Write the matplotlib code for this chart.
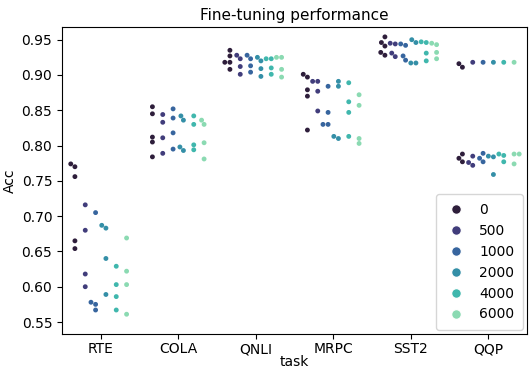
import matplotlib
matplotlib.use("Agg")
import matplotlib.pyplot as plt
from matplotlib.lines import Line2D
import seaborn as sns
import pandas as pd

tasks = ["RTE", "COLA", "QNLI", "MRPC", "SST2", "QQP"]
hues = ["0", "500", "1000", "2000", "4000", "6000"]

rte = {
    "0": [0.774, 0.770, 0.756, 0.665, 0.654],
    "500": [0.716, 0.680, 0.618, 0.600],
    "1000": [0.705, 0.578, 0.575, 0.567],
    "2000": [0.687, 0.683, 0.640, 0.589],
    "4000": [0.629, 0.603, 0.586, 0.567],
    "6000": [0.669, 0.622, 0.603, 0.561],
}
cola = {
    "0": [0.855, 0.845, 0.812, 0.805, 0.784],
    "500": [0.844, 0.833, 0.811, 0.789],
    "1000": [0.852, 0.839, 0.818, 0.795],
    "2000": [0.842, 0.836, 0.798, 0.793],
    "4000": [0.842, 0.830, 0.801, 0.794],
    "6000": [0.836, 0.830, 0.804, 0.781],
}
qnli = {
    "0": [0.935, 0.927, 0.918, 0.918, 0.908],
    "500": [0.928, 0.923, 0.912, 0.901],
    "1000": [0.928, 0.923, 0.913, 0.904],
    "2000": [0.925, 0.920, 0.909, 0.898],
    "4000": [0.923, 0.923, 0.910, 0.901],
    "6000": [0.925, 0.925, 0.908, 0.897],
}
mrpc = {
    "0": [0.901, 0.897, 0.879, 0.870, 0.822],
    "500": [0.891, 0.891, 0.877, 0.849],
    "1000": [0.884, 0.847, 0.830, 0.830],
    "2000": [0.891, 0.884, 0.813, 0.810],
    "4000": [0.889, 0.862, 0.847, 0.813],
    "6000": [0.872, 0.857, 0.810, 0.803],
}
sst2 = {
    "0": [0.954, 0.946, 0.941, 0.932, 0.928],
    "500": [0.945, 0.944, 0.931, 0.926],
    "1000": [0.944, 0.942, 0.927, 0.921],
    "2000": [0.950, 0.946, 0.917, 0.917],
    "4000": [0.947, 0.946, 0.931, 0.920],
    "6000": [0.945, 0.943, 0.932, 0.923],
}
qqp = {
    "0": [0.916, 0.911, 0.788, 0.782, 0.777],
    "500": [0.918, 0.785, 0.776, 0.772],
    "1000": [0.918, 0.789, 0.782, 0.777],
    "2000": [0.918, 0.785, 0.784, 0.759],
    "4000": [0.918, 0.788, 0.786, 0.777],
    "6000": [0.918, 0.788, 0.788, 0.774],
}

all_data = {"RTE": rte, "COLA": cola, "QNLI": qnli, "MRPC": mrpc, "SST2": sst2, "QQP": qqp}
rows = []
for t in tasks:
    for h in hues:
        for v in all_data[t][h]:
            rows.append({"task": t, "n": h, "Acc": v})
df = pd.DataFrame(rows)

DPI = 100
fig = plt.figure(figsize=(532 / DPI, 368 / DPI), dpi=DPI)
ax = fig.add_axes([62 / 532, 1 - 334 / 368, (527 - 62) / 532, (334 - 27) / 368])
palette = sns.color_palette("mako", len(hues))
sns.swarmplot(data=df, x="task", y="Acc", hue="n", order=tasks, hue_order=hues,
              palette=palette, dodge=True, size=3.5, ax=ax, legend=False)
ax.set_title("Fine-tuning performance", fontsize=11, pad=5)
ax.set_xlabel("task", fontsize=10, labelpad=-1)
ax.set_ylabel("Acc", fontsize=10, labelpad=3)
ax.tick_params(labelsize=10)
ax.tick_params(axis="x", pad=2.5)
ax.set_yticks([0.55, 0.60, 0.65, 0.70, 0.75, 0.80, 0.85, 0.90, 0.95])
ax.set_ylim(0.533, 0.968)
ax.set_xlim(-0.5, 5.5)
handles = [Line2D([], [], linestyle="none", marker="o", markersize=7,
                  markerfacecolor=c, markeredgecolor="white", markeredgewidth=0.9)
           for c in palette]
ax.legend(handles, hues, loc="lower right", fontsize=10, handletextpad=0.9,
          handlelength=1.6, borderpad=0.6, labelspacing=0.5, borderaxespad=0.3)
fig.savefig("out.png", dpi=DPI)
